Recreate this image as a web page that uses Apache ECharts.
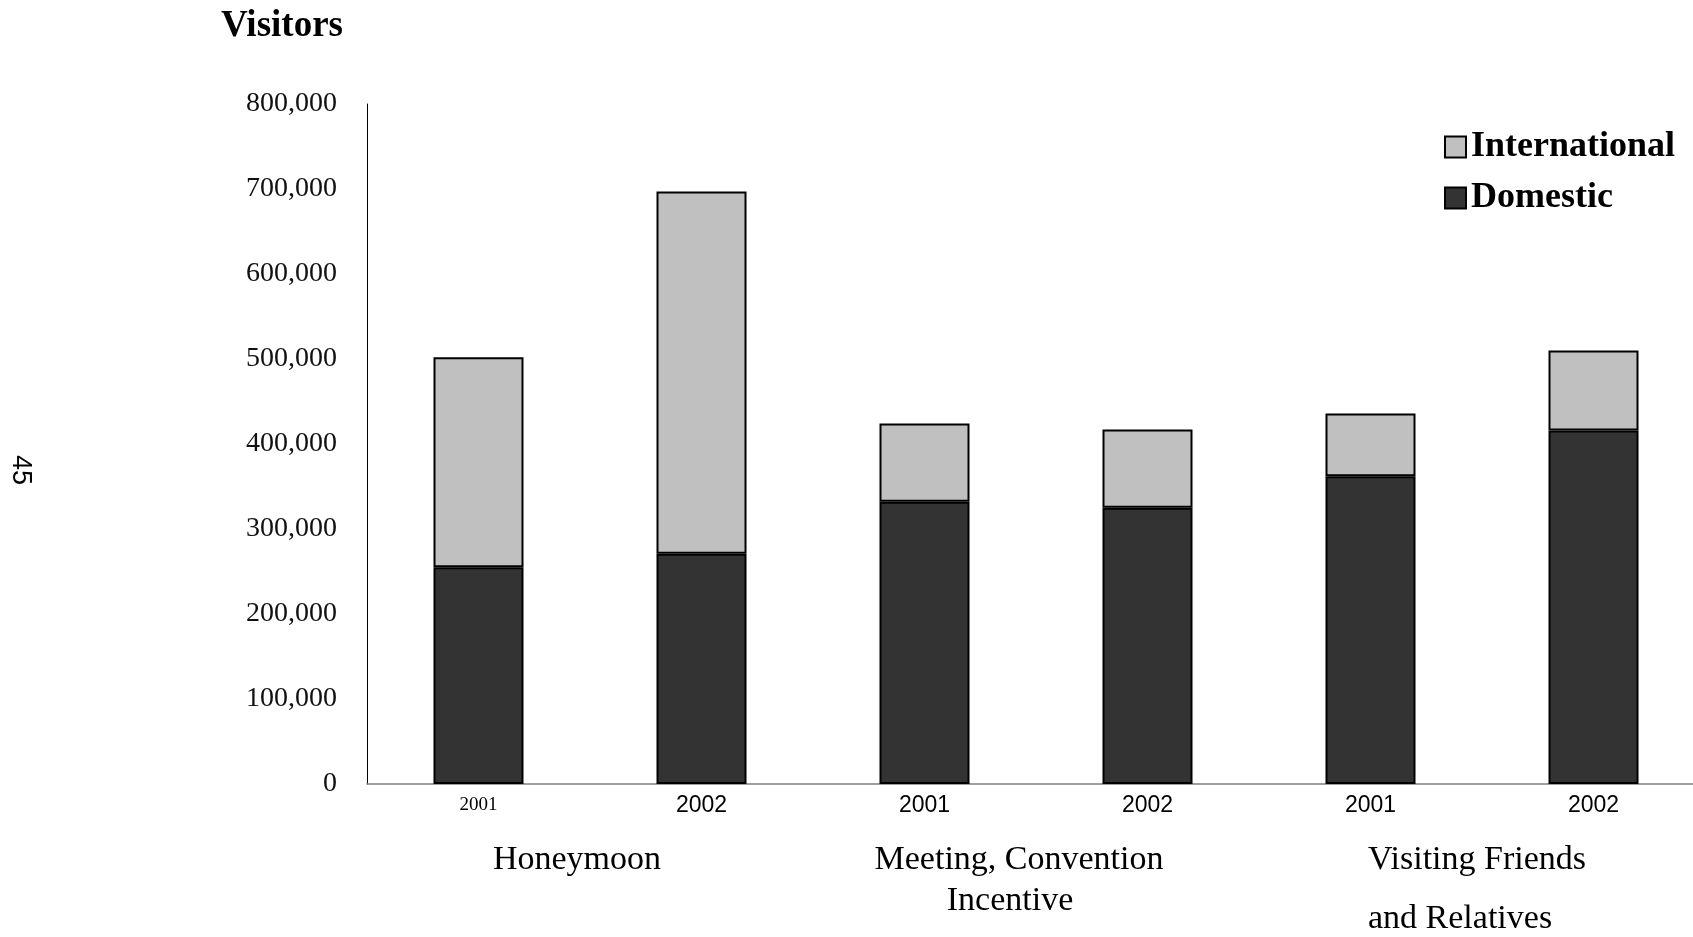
<!DOCTYPE html>
<html>
<head>
<meta charset="utf-8">
<script src="https://cdn.jsdelivr.net/npm/echarts@6/dist/echarts.min.js"></script>
<style>html,body{margin:0;padding:0;background:#fff;overflow:hidden;}#c{width:1705px;height:937px;}</style>
</head>
<body>
<div id="c"></div>
<script>
const categories = ['2001', '2002', '2001', '2002', '2001', '2002'];
const domestic = [255000, 271000, 332000, 325000, 362000, 416000];
const international = [247000, 426000, 92000, 92000, 74000, 94000];
const groupLines = [
  ['Honeymoon'],
  ['Meeting, Convention', 'Incentive'],
  ['Visiting Friends', 'and Relatives']
];
const yTicks = [0, 100000, 200000, 300000, 400000, 500000, 600000, 700000, 800000];

const serif = '"Liberation Serif", "DejaVu Serif", serif';
const sans = '"Liberation Sans", Arial, sans-serif';

const chart = echarts.init(document.getElementById('c'));
chart.setOption({
  animation: false,
  backgroundColor: '#fff',
  grid: { left: 367, top: 104, bottom: 153, right: 0, containLabel: false },
  legend: {
    data: ['International', 'Domestic'],
    orient: 'vertical',
    left: 1439,
    top: 124,
    itemWidth: 21,
    itemHeight: 21,
    itemGap: 15,
    icon: 'rect',
    textStyle: { fontFamily: serif, fontWeight: 'bold', fontSize: 36, color: '#000', padding: [0, 0, 0, 0] }
  },
  xAxis: {
    type: 'category',
    data: categories,
    axisLine: { lineStyle: { color: '#808080', width: 1.5 } },
    axisTick: { show: false },
    axisLabel: {
      margin: 10,
      formatter: function (v, i) { return i === 0 ? '{a|' + v + '}' : (i === 5 ? '{c|' + v + '}' : '{b|' + v + '}'); },
      rich: {
        a: { fontFamily: serif, fontSize: 19, color: '#000', padding: [2, 0, 0, 0] },
        b: { fontFamily: sans, fontSize: 23, color: '#000' },
        c: { fontFamily: sans, fontSize: 23, color: '#000', padding: [0, 0, 4, 0] }
      }
    }
  },
  yAxis: {
    type: 'value',
    min: 0,
    max: 800000,
    interval: 100000,
    axisLine: { show: true, lineStyle: { color: '#000', width: 1 } },
    axisTick: { show: false },
    splitLine: { show: false },
    axisLabel: {
      margin: 30,
      fontFamily: serif,
      fontSize: 28,
      color: '#111',
      formatter: function (v) { return yTicks.indexOf(v) >= 0 ? v.toLocaleString('en-US') : ''; }
    }
  },
  series: [
    {
      name: 'Domestic',
      type: 'bar',
      stack: 'total',
      barWidth: 90,
      data: domestic,
      itemStyle: { color: '#333333', borderColor: '#000', borderWidth: 2 }
    },
    {
      name: 'International',
      type: 'bar',
      stack: 'total',
      barWidth: 90,
      data: international,
      itemStyle: { color: '#c0c0c0', borderColor: '#000', borderWidth: 2 }
    }
  ],
  graphic: [
    { type: 'text', left: 221, top: 8, style: { text: 'Visitors', font: 'bold 37px ' + serif, fill: '#000' } },
    { type: 'text', x: 20, y: 470, rotation: -Math.PI / 2, style: { text: '45', font: '27px ' + sans, fill: '#000', textAlign: 'center', textVerticalAlign: 'middle' } },
    { type: 'text', x: 577, y: 860, style: { text: groupLines[0][0], font: '34px ' + serif, fill: '#000', textAlign: 'center', textVerticalAlign: 'middle' } },
    { type: 'text', x: 1019, y: 860, style: { text: groupLines[1][0], font: '34px ' + serif, fill: '#000', textAlign: 'center', textVerticalAlign: 'middle' } },
    { type: 'text', x: 1010, y: 901, style: { text: groupLines[1][1], font: '34px ' + serif, fill: '#000', textAlign: 'center', textVerticalAlign: 'middle' } },
    { type: 'text', x: 1368, y: 860, style: { text: groupLines[2][0], font: '34px ' + serif, fill: '#000', textAlign: 'left', textVerticalAlign: 'middle' } },
    { type: 'text', x: 1368, y: 919, style: { text: groupLines[2][1], font: '34px ' + serif, fill: '#000', textAlign: 'left', textVerticalAlign: 'middle' } }
  ]
});
</script>
</body>
</html>
